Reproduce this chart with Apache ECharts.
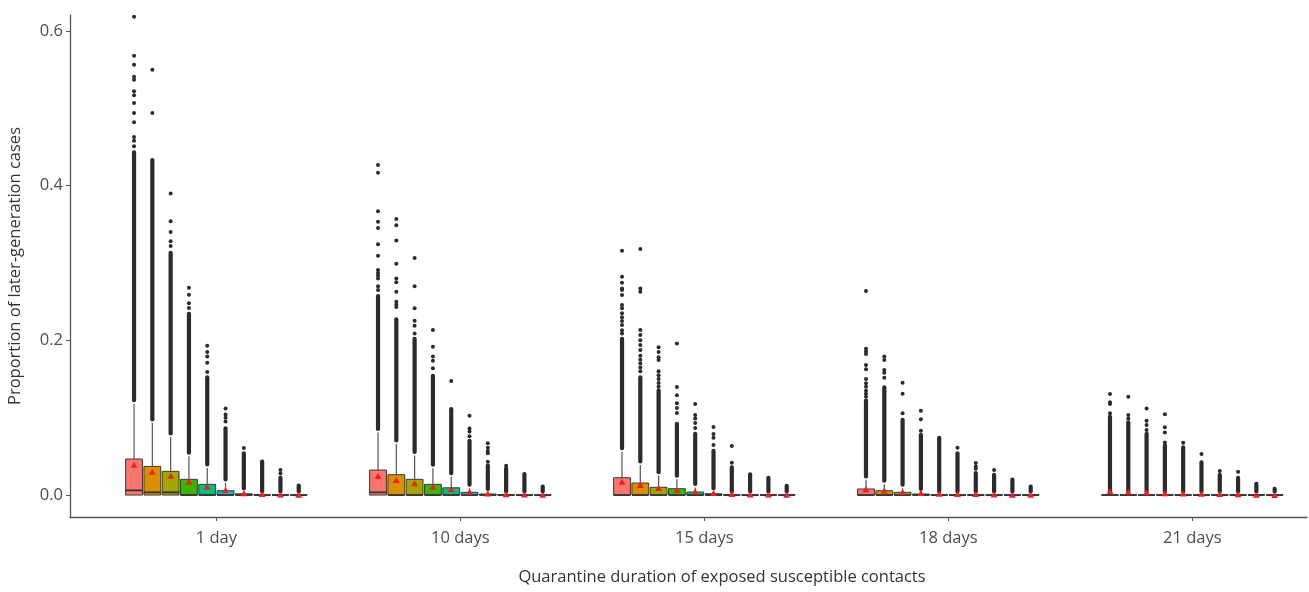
<!DOCTYPE html>
<html lang="en">
<head>
<meta charset="utf-8">
<title>Proportion of later-generation cases</title>
<script src="https://cdn.jsdelivr.net/npm/echarts@6/dist/echarts.min.js"></script>
<style>
  html, body { margin: 0; background: #fff; }
  #main { width: 1309px; height: 592px; }
</style>
</head>
<body>
<div id="main"></div>
<script>
// quarantine duration groups
var categories = ['1 day', '10 days', '15 days', '18 days', '21 days'];

// box statistics, one row per group, 10 sub-boxes each
var lowerQuartiles = [
  [0, 0, 0, 0, 0, 0, 0, 0, 0, 0],
  [0, 0, 0, 0, 0, 0, 0, 0, 0, 0],
  [0, 0, 0, 0, 0, 0, 0, 0, 0, 0],
  [0, 0, 0, 0, 0, 0, 0, 0, 0, 0],
  [0, 0, 0, 0, 0, 0, 0, 0, 0, 0]
];
var medians = [
  [0.006, 0.0035, 0.0035, 0, 0, 0, 0, 0, 0, 0],
  [0.0035, 0, 0, 0, 0, 0, 0, 0, 0, 0],
  [0, 0, 0, 0, 0, 0, 0, 0, 0, 0],
  [0, 0, 0, 0, 0, 0, 0, 0, 0, 0],
  [0, 0, 0, 0, 0, 0, 0, 0, 0, 0]
];
var upperQuartiles = [
  [0.0466, 0.037, 0.0306, 0.0203, 0.0138, 0.0056, 0.0016, 0, 0, 0],
  [0.0323, 0.0263, 0.0203, 0.0138, 0.0094, 0.0035, 0.0013, 0, 0, 0],
  [0.0224, 0.0155, 0.010, 0.0082, 0.0039, 0.0017, 0, 0, 0, 0],
  [0.0078, 0.0056, 0.0035, 0.0013, 0, 0, 0, 0, 0, 0],
  [0, 0, 0, 0, 0, 0, 0, 0, 0, 0]
];
var upperWhiskers = [
  [0.118, 0.093, 0.075, 0.050, 0.035, 0.0155, 0.004, 0, 0, 0],
  [0.081, 0.066, 0.051, 0.0345, 0.0235, 0.0088, 0.0033, 0, 0, 0],
  [0.056, 0.0388, 0.025, 0.0205, 0.0098, 0.0043, 0, 0, 0, 0],
  [0.0195, 0.014, 0.0088, 0.0033, 0, 0, 0, 0, 0, 0],
  [0, 0, 0, 0, 0, 0, 0, 0, 0, 0]
];
var means = [
  [0.039, 0.030, 0.025, 0.0172, 0.0107, 0.0065, 0.0022, 0.0012, 0.0008, 0.0005],
  [0.0246, 0.0194, 0.0151, 0.0107, 0.0074, 0.0043, 0.002, 0.001, 0.0008, 0.0005],
  [0.0172, 0.0129, 0.009, 0.0065, 0.0047, 0.0026, 0.0012, 0.0008, 0.0006, 0.0004],
  [0.0075, 0.0058, 0.004, 0.0026, 0.0018, 0.0015, 0.0012, 0.0008, 0.0005, 0.0003],
  [0.005, 0.0043, 0.0035, 0.0022, 0.002, 0.0017, 0.0013, 0.0009, 0.0004, 0.0002]
];
// outliers: the crowded run above each whisker ends here
var denseOutlierTops = [
  [0.444, 0.434, 0.314, 0.235, 0.153, 0.087, 0.0547, 0.044, 0.023, 0.0129],
  [0.258, 0.228, 0.2026, 0.155, 0.112, 0.071, 0.0388, 0.035, 0.028, 0.0116],
  [0.2026, 0.153, 0.1358, 0.0927, 0.0798, 0.058, 0.0366, 0.0276, 0.0229, 0.0125],
  [0.1228, 0.14, 0.098, 0.0785, 0.0746, 0.0547, 0.029, 0.027, 0.0207, 0.0116],
  [0.102, 0.0948, 0.0798, 0.0647, 0.0625, 0.043, 0.027, 0.0229, 0.0151, 0.0087]
];
// the separate outlier dots above the crowded run
var sparseOutliers = [
  [
    [0.451, 0.458, 0.463, 0.482, 0.494, 0.507, 0.517, 0.522, 0.537, 0.541, 0.5565, 0.568, 0.6185],
    [0.494, 0.55],
    [0.322, 0.328, 0.34, 0.354, 0.39],
    [0.242, 0.248, 0.259, 0.268],
    [0.159, 0.171, 0.179, 0.185, 0.193],
    [0.095, 0.1, 0.104, 0.112],
    [0.0608],
    [],
    [0.028, 0.0323],
    []
  ],
  [
    [0.265, 0.270, 0.280, 0.284, 0.287, 0.291, 0.3095, 0.3242, 0.3453, 0.3534, 0.3668, 0.4168, 0.4267],
    [0.243, 0.246, 0.25, 0.263, 0.275, 0.280, 0.299, 0.329, 0.349, 0.357],
    [0.209, 0.219, 0.2254, 0.2414, 0.270, 0.3065],
    [0.1638, 0.1737, 0.179, 0.1918, 0.2134],
    [0.1474],
    [0.076, 0.082, 0.086, 0.1025],
    [0.043, 0.054, 0.057, 0.061, 0.0668],
    [0.0379],
    [],
    []
  ],
  [
    [0.209, 0.213, 0.22, 0.225, 0.23, 0.235, 0.2414, 0.2457, 0.2586, 0.265, 0.267, 0.2745, 0.2823, 0.316],
    [0.16, 0.165, 0.17, 0.175, 0.18, 0.1875, 0.194, 0.2, 0.207, 0.2134, 0.263, 0.267, 0.318],
    [0.14, 0.145, 0.15, 0.155, 0.16, 0.1746, 0.178, 0.185, 0.191],
    [0.106, 0.1125, 0.1186, 0.129, 0.1397, 0.196],
    [0.0866, 0.093, 0.099, 0.1034, 0.1177],
    [0.0647, 0.074, 0.079, 0.0879],
    [0.0418, 0.0634],
    [],
    [],
    []
  ],
  [
    [0.127, 0.131, 0.135, 0.14, 0.1444, 0.15, 0.1625, 0.168, 0.1823, 0.1855, 0.189, 0.2638],
    [0.1517, 0.158, 0.1616, 0.1746, 0.179],
    [0.1056, 0.131, 0.1453],
    [0.0832, 0.098, 0.109],
    [],
    [0.0612],
    [0.034, 0.037, 0.0415],
    [0.0323],
    [],
    []
  ],
  [
    [0.1056, 0.1177, 0.12, 0.1306],
    [0.099, 0.1034, 0.127],
    [0.084, 0.0905, 0.096, 0.112],
    [0.068, 0.081, 0.0875, 0.1043],
    [0.0677],
    [0.053],
    [0.031],
    [0.030],
    [],
    []
  ]
];

// ggplot hue palette, 10 levels
var palette = ['#F8766D', '#D89000', '#A3A500', '#39B600', '#00BF7D',
               '#00BFC4', '#00B0F6', '#9590FF', '#E76BF3', '#FF62BC'];
var slot = 0.075;   // dodge width 0.75 split over 10 boxes

function xPos(g, k) {
  return g + (k - 4.5) * slot;
}

var boxData = [], denseData = [], pointData = [], meanData = [];
categories.forEach(function (c, g) {
  for (var k = 0; k < 10; k++) {
    var x = xPos(g, k);
    boxData.push([x, lowerQuartiles[g][k], medians[g][k], upperQuartiles[g][k], upperWhiskers[g][k], k]);
    denseData.push([x, upperWhiskers[g][k], denseOutlierTops[g][k]]);
    sparseOutliers[g][k].forEach(function (v) { pointData.push([x, v]); });
    meanData.push([x, means[g][k]]);
  }
});

var myChart = echarts.init(document.getElementById('main'));

var option = {
  animation: false,
  grid: { left: 70, right: 2, top: 15, bottom: 75, containLabel: false, outerBoundsMode: 'none' },
  xAxis: {
    type: 'value',
    min: -0.6,
    max: 4.47,
    splitLine: { show: false },
    axisLine: { onZero: false, lineStyle: { color: '#555', width: 1.3 } },
    axisTick: { customValues: [0, 1, 2, 3, 4], length: 4, lineStyle: { color: '#555' } },
    axisLabel: {
      customValues: [0, 1, 2, 3, 4],
      formatter: function (v) { return categories[Math.round(v)]; },
      color: '#4d4d4d',
      fontFamily: 'Open Sans',
      fontSize: 16.5,
      margin: 13
    }
  },
  yAxis: {
    type: 'value',
    min: -0.0284,
    max: 0.6207,
    name: 'Proportion of later-generation cases',
    nameLocation: 'middle',
    nameGap: 46,
    nameTextStyle: { color: '#333', fontFamily: 'Open Sans', fontSize: 16.5 },
    splitLine: { show: false },
    axisLine: { show: true, onZero: false, lineStyle: { color: '#555', width: 1.3 } },
    axisTick: { show: true, customValues: [0, 0.2, 0.4, 0.6], length: 4, lineStyle: { color: '#555' } },
    axisLabel: {
      customValues: [0, 0.2, 0.4, 0.6],
      formatter: function (v) { return v.toFixed(1); },
      color: '#4d4d4d',
      fontFamily: 'Open Sans',
      fontSize: 16.5,
      margin: 7
    }
  },
  graphic: [{
    type: 'text',
    x: 722,
    y: 577,
    style: {
      text: 'Quarantine duration of exposed susceptible contacts',
      fill: '#333',
      font: '16.5px "Open Sans"',
      textAlign: 'center',
      textVerticalAlign: 'middle'
    }
  }],
  series: [
    {
      // boxes, whiskers and medians
      type: 'custom',
      z: 2,
      data: boxData,
      renderItem: function (params, api) {
        var x = api.value(0);
        var half = api.size([slot * 0.92, 0])[0] / 2;
        var pQ1 = api.coord([x, api.value(1)]);
        var pMed = api.coord([x, api.value(2)]);
        var pQ3 = api.coord([x, api.value(3)]);
        var pW = api.coord([x, api.value(4)]);
        return {
          type: 'group',
          children: [
            { type: 'line', shape: { x1: pQ3[0], y1: pQ3[1], x2: pW[0], y2: pW[1] },
              style: { stroke: '#555', lineWidth: 1.2 } },
            { type: 'rect', shape: { x: pQ1[0] - half, y: pQ3[1], width: half * 2, height: pQ1[1] - pQ3[1] },
              style: { fill: palette[api.value(5)], stroke: '#3a3a3a', lineWidth: 1 } },
            { type: 'line', shape: { x1: pMed[0] - half, y1: pMed[1], x2: pMed[0] + half, y2: pMed[1] },
              style: { stroke: '#333', lineWidth: 1.8 } }
          ]
        };
      }
    },
    {
      // crowded outlier runs
      type: 'custom',
      z: 3,
      data: denseData,
      renderItem: function (params, api) {
        var lo = api.coord([api.value(0), api.value(1)]);
        var hi = api.coord([api.value(0), api.value(2)]);
        return {
          type: 'rect',
          shape: { x: lo[0] - 2.1, y: hi[1] - 1.5, width: 4.2, height: lo[1] - hi[1], r: 2 },
          style: { fill: '#2b2b2b' }
        };
      }
    },
    {
      type: 'scatter',
      z: 3,
      data: pointData,
      symbolSize: 4,
      itemStyle: { color: '#2b2b2b', opacity: 1 }
    },
    {
      type: 'scatter',
      z: 4,
      data: meanData,
      symbol: 'triangle',
      symbolSize: [7, 6],
      itemStyle: { color: '#f02020', opacity: 1 }
    }
  ]
};

myChart.setOption(option);
</script>
</body>
</html>
